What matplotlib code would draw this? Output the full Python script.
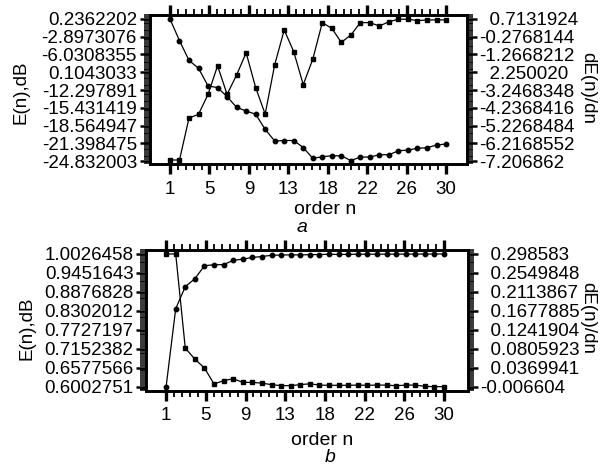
import numpy as np
import matplotlib
matplotlib.use("Agg")
import matplotlib.pyplot as plt
from matplotlib.ticker import FixedLocator, AutoMinorLocator

plt.rcParams['font.family'] = ['Liberation Sans', 'DejaVu Sans']

order = np.arange(1, 31)

# panel a
e_a = [0.236, -3.59, -7.07, -8.47, -11.59, -11.86, -13.48, -15.35, -16.01, -16.57,
       -19.24, -21.30, -21.21, -21.21, -22.45, -24.36, -24.07, -23.90, -23.91, -24.75,
       -24.13, -24.13, -23.72, -23.72, -23.03, -22.89, -22.59, -22.48, -22.01, -21.83]
de_a = [-7.15, -7.15, -4.81, -4.60, -3.49, -1.90, -3.49, -2.41, -1.17, -3.11,
        -4.59, -1.84, 0.10, -1.11, -2.95, -1.53, 0.51, 0.19, -0.59, -0.18,
        0.51, 0.51, 0.32, 0.56, 0.70, 0.70, 0.62, 0.66, 0.66, 0.66]

# panel b
e_b = [0.6003, 0.8368, 0.9035, 0.9277, 0.9669, 0.9702, 0.9702, 0.9835, 0.9869, 0.9920,
       0.9950, 0.9987, 0.9996, 0.9998, 1.0000, 1.0005, 1.0010, 1.0018, 1.0012, 1.0015,
       1.0018, 1.0020, 1.0020, 1.0022, 1.0022, 1.0024, 1.0024, 1.0025, 1.0026, 1.0026]
de_b = [0.2986, 0.2986, 0.0819, 0.0567, 0.0362, -0.0004, 0.0071, 0.0117, 0.0032, 0.0032,
        0.0014, -0.0020, -0.0043, -0.0043, -0.0020, 0.0000, -0.0030, -0.0035, -0.0035, -0.0035,
        -0.0030, -0.0035, -0.0030, -0.0030, -0.0045, -0.0030, -0.0030, -0.0060, -0.0066, -0.0066]

x_labels = ['1', '5', '9', '13', '18', '22', '26', '30']
yl_a = ["0.2362202", "-2.8973076", "-6.0308355", "0.1043033", "-12.297891",
        "-15.431419", "-18.564947", "-21.398475", "-24.832003"]
yr_a = ["0.7131924", "-0.2768144", "-1.2668212", "2.250020", "-3.2468348",
        "-4.2368416", "-5.2268484", "-6.2168552", "-7.206862"]
yl_b = ["1.0026458", "0.9451643", "0.8876828", "0.8302012", "0.7727197",
        "0.7152382", "0.6577566", "0.6002751"]
yr_b = ["0.298583", "0.2549848", "0.2113867", "0.1677885", "0.1241904",
        "0.0805923", "0.0369941", "-0.006604"]

W, H = 602, 465
fig = plt.figure(figsize=(W / 100, H / 100), dpi=100)
FS = 13.5


def set_yticks(axis, labels, pads, right=False):
    lo, hi = float(labels[-1]), float(labels[0])
    span = hi - lo
    axis.set_ylim(lo - span * pads[1], hi + span * pads[0])
    axis.yaxis.set_major_locator(FixedLocator(np.linspace(hi, lo, len(labels))))
    if right:
        labels = [s if s.startswith('-') else '  ' + s for s in labels]
    axis.set_yticklabels(labels, fontsize=FS)
    axis.yaxis.set_minor_locator(AutoMinorLocator(10))
    axis.tick_params(axis='y', which='major', direction='out', length=7, width=1.8)
    axis.tick_params(axis='y', which='minor', direction='out', length=4, width=1.1)


def panel(box, xpad, e, de, yl, yr, pads):
    l, t, r, b = box
    ax = fig.add_axes([l / W, 1 - b / H, (r - l) / W, (b - t) / H])
    ax2 = ax.twinx()
    ax.plot(order, e, color='black', lw=0.9, marker='o', ms=3.2)
    ax2.plot(order, de, color='black', lw=0.9, marker='s', ms=3.5)
    ax.set_xlim(1 - xpad[0], 30 + xpad[1])
    ax.xaxis.set_major_locator(FixedLocator(np.linspace(1, 30, 8)))
    ax.set_xticklabels(x_labels, fontsize=FS)
    ax.xaxis.set_minor_locator(FixedLocator(np.linspace(1, 30, 36)))
    ax.tick_params(axis='x', which='both', direction='out', top=True, bottom=True)
    ax.tick_params(axis='x', which='major', length=7, width=2.4, pad=5)
    ax.tick_params(axis='x', which='minor', length=4.5, width=1.3)
    set_yticks(ax, yl, pads)
    set_yticks(ax2, yr, pads, right=True)
    ax.tick_params(axis='y', pad=2)
    ax2.tick_params(axis='y', pad=2)
    for a in (ax, ax2):
        for s in a.spines.values():
            s.set_linewidth(1.9)
    return ax, ax2


panel((149.5, 15, 467, 164.3), (2.15, 2.2), e_a, de_a, yl_a, yr_a, (0.028, 0.023))
panel((146, 250, 467.5, 390.5), (2.1, 2.45), e_b, de_b, yl_b, yr_b, (0.030, 0.029))


def ftext(x, y, s, **kw):
    fig.text(x / W, 1 - y / H, s, ha='center', va='center', **kw)


ftext(21, 92, 'E(n),dB', rotation=90, fontsize=FS)
ftext(588, 88, 'dE(n)/dn', rotation=270, fontsize=FS)
ftext(325, 209, 'order n', fontsize=14)
ftext(302, 227, 'a', fontsize=14, style='italic')

ftext(27, 328, 'E(n),dB', rotation=90, fontsize=FS)
ftext(588, 318, 'dE(n)/dn', rotation=270, fontsize=FS)
ftext(322, 440, 'order n', fontsize=14)
ftext(330, 457, 'b', fontsize=14, style='italic')

fig.savefig('out.png', dpi=100)
